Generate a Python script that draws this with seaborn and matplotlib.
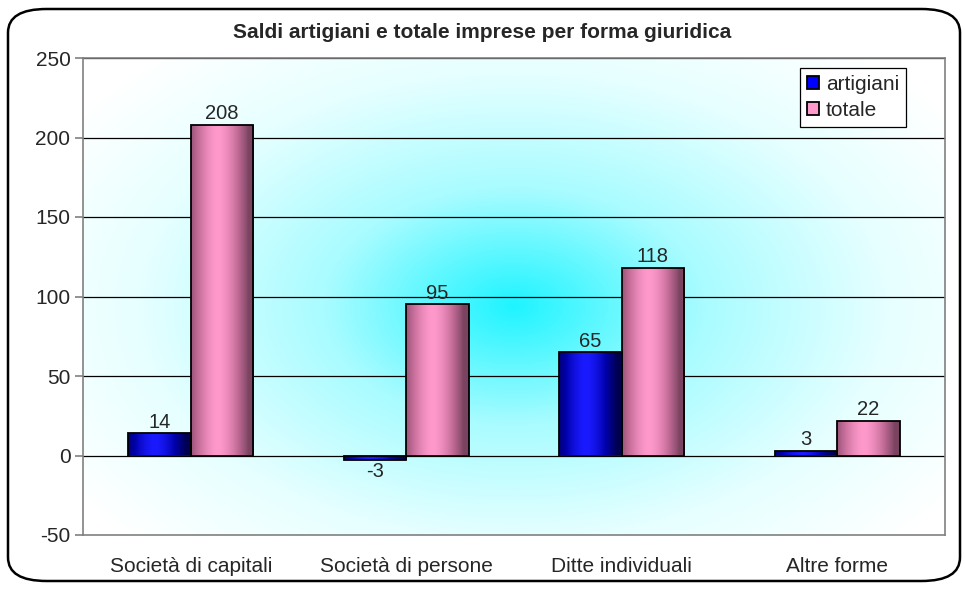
import numpy as np
import pandas as pd
import matplotlib
matplotlib.use("Agg")
import matplotlib.pyplot as plt
from matplotlib.patches import FancyBboxPatch
from matplotlib.colors import LinearSegmentedColormap
import seaborn as sns

categories = ["Società di capitali", "Società di persone", "Ditte individuali", "Altre forme"]
artigiani = [14, -3, 65, 3]
totale = [208, 95, 118, 22]
series = ["artigiani", "totale"]

df = pd.DataFrame({
    "forma": categories * 2,
    "serie": ["artigiani"] * 4 + ["totale"] * 4,
    "valore": artigiani + totale,
})

sns.set_style("white")
plt.rcParams["font.family"] = ["Liberation Sans", "DejaVu Sans"]
plt.rcParams["axes.unicode_minus"] = False

fig = plt.figure(figsize=(9.65, 5.89), dpi=100)
ax = fig.add_axes([83 / 965, 1 - 535 / 589, 862 / 965, 477 / 589])

palette = {"artigiani": "#0000FF", "totale": "#FF99CC"}
sns.barplot(data=df, x="forma", y="valore", hue="serie", palette=palette,
            width=0.58, saturation=1, edgecolor="black", linewidth=1.3,
            ax=ax, zorder=3)

ax.set_xlim(-0.5, 3.5)
ax.set_ylim(-50, 250)
ax.set_yticks(range(-50, 251, 50))
ax.set_xlabel("")
ax.set_ylabel("")
ax.tick_params(axis="x", labelsize=15, length=0, pad=16)
ax.tick_params(axis="y", labelsize=15, length=6, color="#808080", direction="out",
               pad=3, left=True, width=1.2)
for s in ax.spines.values():
    s.set_color("#808080")
    s.set_linewidth(1.2)

# grid
for v in range(0, 251, 50):
    ax.axhline(v, color="black", lw=0.9, zorder=1)

# radial cyan background
yy, xx = np.mgrid[0:1:300j, 0:1:500j]
r = np.sqrt(((xx - 0.5) / 0.62) ** 2 + ((yy - 0.52) / 0.7) ** 2)
r = np.clip(r, 0, 1)
bg_cmap = LinearSegmentedColormap.from_list(
    "bg", [(0, "#20F4FF"), (0.35, "#A8FCFF"), (0.7, "#E6FFFF"), (1, "#FFFFFF")])
ax.imshow(r, cmap=bg_cmap, extent=[0, 1, 0, 1], transform=ax.transAxes,
          aspect="auto", zorder=0, interpolation="bilinear")

# gradient fill for bars
grad = np.abs(np.linspace(-1, 1, 100) + 0.15) ** 1.6
grad = np.clip(grad, 0, 1)[np.newaxis, :]
cmaps = {
    "artigiani": LinearSegmentedColormap.from_list("b", ["#1A1AFF", "#0000A8", "#000050"]),
    "totale": LinearSegmentedColormap.from_list("p", ["#FF99CC", "#C06A95", "#7A4360"]),
}
for cont, name in zip(ax.containers, series):
    for p in cont:
        x0, y0 = p.get_x(), p.get_y()
        w, h = p.get_width(), p.get_height()
        im = ax.imshow(grad, cmap=cmaps[name], extent=[x0, x0 + w, y0, y0 + h],
                       aspect="auto", zorder=3.5, interpolation="bilinear")
        im.set_clip_path(p)
        p.set_zorder(4)
        p.set_facecolor("none")
    ax.bar_label(cont, fontsize=14.5, padding=1, zorder=5)

ax.set_xlim(-0.5, 3.5)
ax.set_ylim(-50, 250)

leg = ax.legend(loc="upper right", bbox_to_anchor=(0.955, 0.98), fontsize=15,
                frameon=True, fancybox=False, edgecolor="black", framealpha=1,
                handlelength=0.6, handleheight=0.6, handletextpad=0.3,
                borderpad=0.35, labelspacing=0.35, borderaxespad=0)
leg.get_frame().set_linewidth(0.9)
for h, name in zip(leg.legend_handles, series):
    h.set_facecolor(palette[name])
    h.set_edgecolor("black")

fig.text(0.5, 1 - 32 / 589, "Saldi artigiani e totale imprese per forma giuridica",
         ha="center", va="center", fontsize=15, fontweight="bold")

border = FancyBboxPatch((8 / 965, 8 / 589), 952 / 965, 572 / 589,
                        boxstyle="round,pad=0,rounding_size=0.04",
                        transform=fig.transFigure, fill=False,
                        edgecolor="black", linewidth=1.8, zorder=10)
fig.patches.append(border)

fig.savefig("out.png", dpi=100, facecolor="white")
